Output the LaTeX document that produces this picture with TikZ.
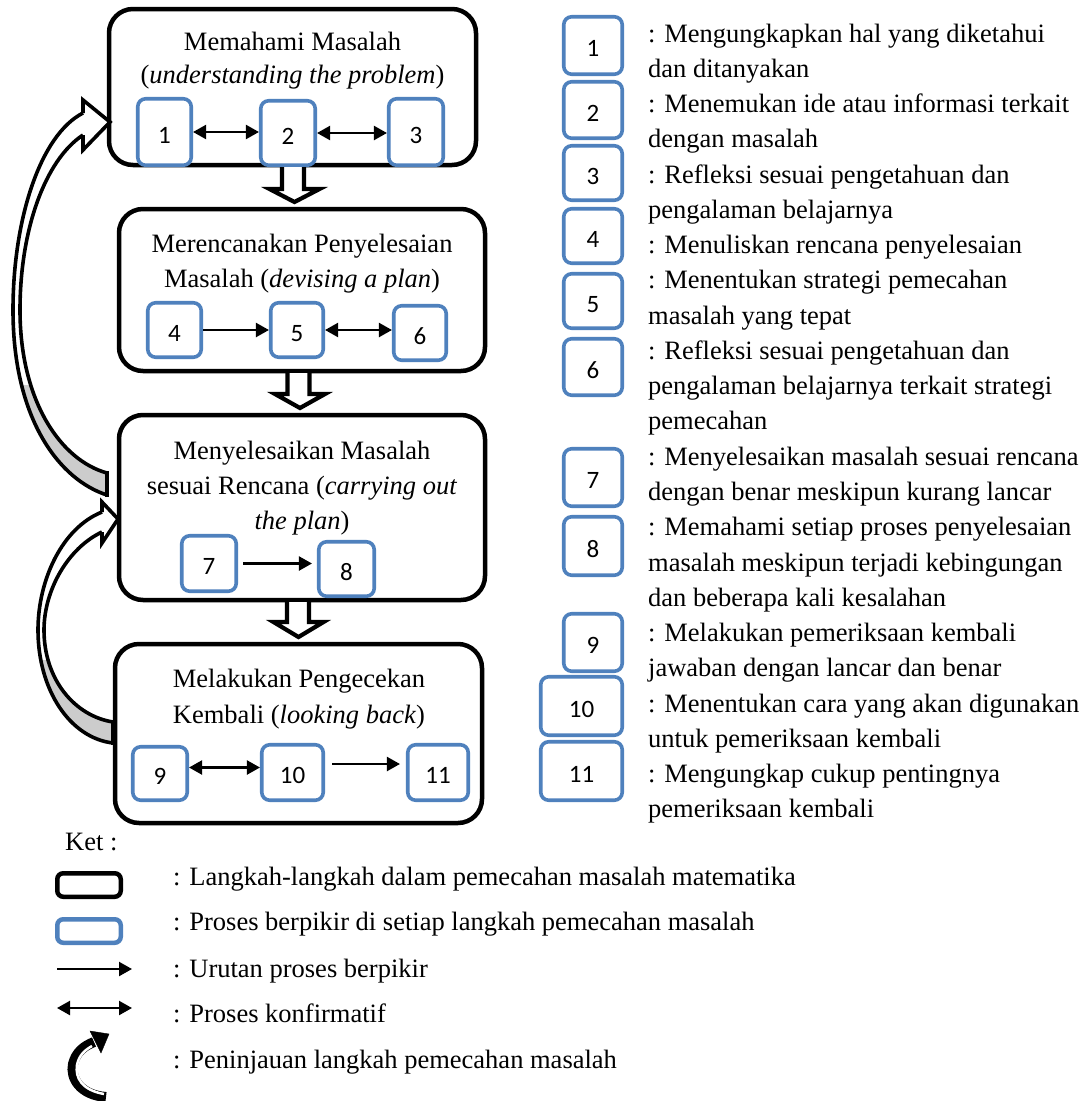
\documentclass[tikz,border=0pt]{standalone}
\usepackage{fontspec}
\setmainfont{Liberation Serif}
\newfontfamily\numfont{Carlito}
\usetikzlibrary{arrows.meta,calc}
\definecolor{boxblue}{RGB}{79,129,189}
\definecolor{backgray}{RGB}{204,204,204}
\newcommand{\hollowarrow}[5]{% shaft x, head x, top y, head base y, tip y
  \filldraw[hollow] (#1-11,#3) -- (#1-11,#4) -- (#2-25,#4) -- (#2,#5) -- (#2+25,#4) -- (#1+11,#4) -- (#1+11,#3);}
\newcommand{\bandone}{(83,113) .. controls (40,135) and (13,220) .. (13,310) .. controls (13,420) and (60,480) .. (107,495) -- (107,473) .. controls (60,460) and (20,400) .. (20,310) .. controls (20,230) and (45,160) .. (83,135) -- cycle}
\newcommand{\bandtwo}{(102,512) .. controls (62,528) and (38,580) .. (38,630) .. controls (38,690) and (70,738) .. (113,743) -- (113,722) .. controls (75,716) and (44,680) .. (44,630) .. controls (44,590) and (68,548) .. (102,532) -- cycle}
\begin{document}
\begin{tikzpicture}[x=1pt,y=-1pt,
  stepbox/.style={draw=black, line width=4.5pt, rounded corners=24pt, fill=white, inner sep=0pt},
  procbox/.style={draw=boxblue, line width=3.6pt, rounded corners=8pt, fill=white, inner sep=0pt,
     font=\numfont\fontsize{25pt}{30pt}\selectfont, text height=22pt, text depth=0pt},
  txt/.style={font=\fontsize{26.5pt}{35pt}\selectfont, inner sep=0pt, anchor=base west},
  ctxt/.style={font=\fontsize{26.5pt}{35pt}\selectfont, inner sep=0pt, anchor=base},
  seqarrow/.style={line width=2.2pt, -{Triangle[length=13pt,width=14pt]}},
  confarrow/.style={line width=2.2pt, {Triangle[length=13pt,width=14pt]}-{Triangle[length=13pt,width=14pt]}},
  hollow/.style={draw=black, fill=white, line width=4.2pt, line join=miter},
  review/.style={draw=black, line width=3.6pt, line join=miter},
]
\useasboundingbox (0,0) rectangle (1086,1101);

% ---- main step boxes ----
\node[stepbox, minimum width=367pt, minimum height=156pt] (A) at (292.5,87) {};
\node[stepbox, minimum width=366pt, minimum height=162pt] (B) at (302,290) {};
\node[stepbox, minimum width=366pt, minimum height=185pt] (C) at (302,507.5) {};
\node[stepbox, minimum width=367pt, minimum height=179pt] (D) at (298.5,733.5) {};

% ---- titles ----
\node[ctxt] (tA1) at (292.5,50) {Memahami Masalah};
\node[ctxt] (tA2) at (292.5,83) {(\textit{understanding the problem})};
\node[ctxt] (tB1) at (302,252) {Merencanakan Penyelesaian};
\node[ctxt] (tB2) at (302,287) {Masalah (\textit{devising a plan})};
\node[ctxt] (tC1) at (302,459) {Menyelesaikan Masalah};
\node[ctxt] (tC2) at (302,494) {sesuai Rencana (\textit{carrying out}};
\node[ctxt] (tC3) at (302,529) {\textit{the plan})};
\node[ctxt] (tD1) at (299,687) {Melakukan Pengecekan};
\node[ctxt] (tD2) at (299,723) {Kembali (\textit{looking back})};

% ---- thinking process boxes ----
\node[procbox, minimum width=53.5pt, minimum height=66.5pt] (b1) at (164.5,132) {1};
\node[procbox, minimum width=54.5pt, minimum height=64.5pt] (b2) at (288,133) {2};
\node[procbox, minimum width=54.5pt, minimum height=66.5pt] (b3) at (416,132) {3};
\node[procbox, minimum width=53.5pt, minimum height=54.5pt] (b4) at (174.5,330) {4};
\node[procbox, minimum width=52.5pt, minimum height=54.5pt] (b5) at (297,330) {5};
\node[procbox, minimum width=52.5pt, minimum height=54.5pt] (b6) at (420,333) {6};
\node[procbox, minimum width=54.5pt, minimum height=55.5pt] (b7) at (209,563.5) {7};
\node[procbox, minimum width=55.5pt, minimum height=54.5pt] (b8) at (346.5,569) {8};
\node[procbox, minimum width=54.5pt, minimum height=53.5pt] (b9) at (160,773.5) {9};
\node[procbox, minimum width=61.5pt, minimum height=55.5pt] (b10) at (292.5,772.5) {10};
\node[procbox, minimum width=60.5pt, minimum height=55.5pt] (b11) at (438,772.5) {11};

% ---- connectors inside steps ----
\draw[confarrow] (b1.east) -- (b1.east -| b2.west);
\draw[confarrow] (b2.east) -- (b2.east -| b3.west);
\draw[seqarrow] (b4.east) -- (b4.east -| b5.west);
\draw[confarrow] (b5.east) -- (b5.east -| b6.west);
\draw[seqarrow, shorten <=5pt, shorten >=5pt] (b7.east) -- (b7.east -| b8.west);
\coordinate (a9) at ([yshift=6pt]b9.east);
\draw[confarrow] (a9) -- (a9 -| b10.west);
\coordinate (a10) at ([yshift=8.5pt]b10.east);
\draw[seqarrow, shorten <=7pt, shorten >=6pt] (a10) -- (a10 -| b11.west);

% ---- hollow arrows between steps ----
\hollowarrow{293}{294.5}{167}{189}{202}
\hollowarrow{298.5}{300}{373}{394}{408}
\hollowarrow{298}{298.5}{602}{622}{637}

% ---- curved review arrows ----
\fill[white] \bandone;
\begin{scope}
  \clip (0,385) rectangle (120,505);
  \fill[backgray] \bandone;
\end{scope}
\fill[white] (83,100) -- (110,122) -- (83,150) -- cycle;
\draw[review] (83,113) .. controls (40,135) and (13,220) .. (13,310) .. controls (13,420) and (60,480) .. (107,495);
\draw[review] (83,135) .. controls (45,160) and (20,230) .. (20,310) .. controls (20,400) and (60,460) .. (107,473);
\draw[review] (107,471) -- (107,497);
\draw[review] (83,113) -- (83,100) -- (110,122) -- (83,150) -- (83,135);

\fill[white] \bandtwo;
\begin{scope}
  \clip (0,660) rectangle (125,750);
  \fill[backgray] \bandtwo;
\end{scope}
\fill[white] (102,502) -- (118,519) -- (102,543) -- cycle;
\draw[review] (102,512) .. controls (62,528) and (38,580) .. (38,630) .. controls (38,690) and (70,738) .. (113,743);
\draw[review] (102,532) .. controls (68,548) and (44,590) .. (44,630) .. controls (44,680) and (75,716) .. (113,722);
\draw[review] (113,720) -- (113,745);
\draw[review] (102,512) -- (102,502) -- (118,519) -- (102,543) -- (102,532);

% ---- right-hand legend boxes ----
\node[procbox, minimum width=58.5pt, minimum height=57.5pt] (l1) at (593,45.5) {1};
\node[procbox, minimum width=58.5pt, minimum height=56.5pt] (l2) at (593,110) {2};
\node[procbox, minimum width=58.5pt, minimum height=54.5pt] (l3) at (593,173) {3};
\node[procbox, minimum width=58.5pt, minimum height=54.5pt] (l4) at (593,236) {4};
\node[procbox, minimum width=58.5pt, minimum height=54.5pt] (l5) at (593,301) {5};
\node[procbox, minimum width=58.5pt, minimum height=56.5pt] (l6) at (593,367) {6};
\node[procbox, minimum width=58.5pt, minimum height=57.5pt] (l7) at (593,477.5) {7};
\node[procbox, minimum width=58.5pt, minimum height=58.5pt] (l8) at (593,546) {8};
\node[procbox, minimum width=58.5pt, minimum height=57.5pt] (l9) at (593,642.5) {9};
\node[procbox, minimum width=81.5pt, minimum height=58.5pt] (l10) at (581.5,706) {10};
\node[procbox, minimum width=81.5pt, minimum height=58.5pt] (l11) at (581.5,771) {11};

% ---- right-hand legend text ----
\foreach \t [count=\i from 0] in {
  {: Mengungkapkan hal yang diketahui},
  {dan ditanyakan},
  {: Menemukan ide atau informasi terkait},
  {dengan masalah},
  {: Refleksi sesuai pengetahuan dan},
  {pengalaman belajarnya},
  {: Menuliskan rencana penyelesaian},
  {: Menentukan strategi pemecahan},
  {masalah yang tepat},
  {: Refleksi sesuai pengetahuan dan},
  {pengalaman belajarnya terkait strategi},
  {pemecahan},
  {: Menyelesaikan masalah sesuai rencana},
  {dengan benar meskipun kurang lancar},
  {: Memahami setiap proses penyelesaian},
  {masalah meskipun terjadi kebingungan},
  {dan beberapa kali kesalahan},
  {: Melakukan pemeriksaan kembali},
  {jawaban dengan lancar dan benar},
  {: Menentukan cara yang akan digunakan},
  {untuk pemeriksaan kembali},
  {: Mengungkap cukup pentingnya},
  {pemeriksaan kembali}}
  \node[txt] (r\i) at (648,42+\i*35.27) {\t};

% ---- bottom key ----
\node[txt] (ket) at (65,850) {Ket :};
\node[draw=black, line width=4.5pt, rounded corners=6pt, minimum width=63.5pt, minimum height=23.5pt, inner sep=0pt] (kbox1) at (89,885) {};
\node[draw=boxblue, line width=4.5pt, rounded corners=6pt, minimum width=63.5pt, minimum height=23.5pt, inner sep=0pt] (kbox2) at (89,931) {};
\coordinate (ks1) at (57,969); \coordinate (ke1) at (132,969);
\draw[seqarrow] (ks1) -- (ke1);
\coordinate (ks2) at (57,1008); \coordinate (ke2) at (132,1008);
\draw[confarrow] (ks2) -- (ke2);
\draw[line width=10pt] (106,1097) .. controls (80,1095) and (70,1078) .. (73,1064) .. controls (76,1052) and (84,1046) .. (94,1042);
\draw[white, line width=2.5pt] (104,1094) .. controls (82,1090) and (75,1078) .. (77,1065) .. controls (79,1055) and (85,1050) .. (92,1046);
\filldraw[black, line join=miter] (90,1031) -- (109,1034) -- (101,1053) -- cycle;
\node[txt] (k1) at (173,885) {: Langkah-langkah dalam pemecahan masalah matematika};
\node[txt] (k2) at (173,930) {: Proses berpikir di setiap langkah pemecahan masalah};
\node[txt] (k3) at (173,977) {: Urutan proses berpikir};
\node[txt] (k4) at (173,1022) {: Proses konfirmatif};
\node[txt] (k5) at (173,1068) {: Peninjauan langkah pemecahan masalah};
\end{tikzpicture}
\end{document}
